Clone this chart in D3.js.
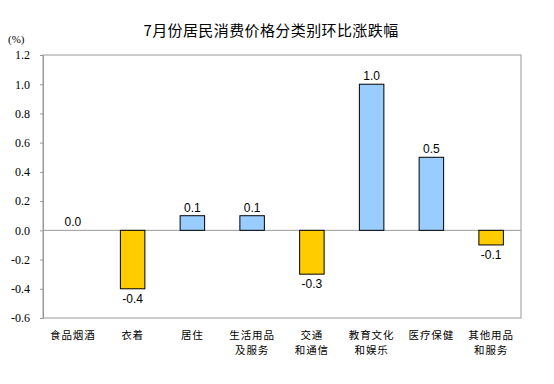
<!DOCTYPE html>
<html><head><meta charset="utf-8">
<script src="https://cdn.jsdelivr.net/npm/d3@7"></script>
<style>body{margin:0;background:#fff}svg{display:block}</style>
</head><body>
<svg id="c" width="554" height="384"></svg>
<script>
const categories = [["食品烟酒"],["衣着"],["居住"],["生活用品","及服务"],["交通","和通信"],["教育文化","和娱乐"],["医疗保健"],["其他用品","和服务"]];
const values = [0.0, -0.4, 0.1, 0.1, -0.3, 1.0, 0.5, -0.1];
const yTicks = [1.2, 1.0, 0.8, 0.6, 0.4, 0.2, 0.0, -0.2, -0.4, -0.6];
const title = "7月份居民消费价格分类别环比涨跌幅";
const unit = "(%)";

const fmt = d => d3.format(".1f")(d).replace("−", "-");
const data = values.map((v, i) => ({ i, v }));

const svg = d3.select("#c");
const L = 43, R = 521, T = 55, B = 318;
const x = d3.scaleBand().domain(d3.range(categories.length)).range([L, R]).paddingInner(0.59).paddingOuter(0.295);
const y = d3.scaleLinear().domain([-0.6, 1.2]).range([B, T]);

svg.append("text").attr("x", 271).attr("y", 36).attr("text-anchor", "middle")
  .attr("font-family", "'Noto Sans CJK SC', sans-serif").attr("font-size", 15).attr("letter-spacing", 0.4).attr("fill", "#000").text(title);
svg.append("text").attr("x", 8).attr("y", 43).attr("font-family", "'Liberation Serif', serif").attr("font-size", 11).text(unit);

// frame
svg.append("rect").attr("x", L).attr("y", T).attr("width", R - L).attr("height", B - T)
  .attr("fill", "none").attr("stroke", "#999").attr("stroke-width", 1);

// y axis
const ya = svg.append("g").attr("transform", `translate(${L},0)`)
  .call(d3.axisLeft(y).tickValues(yTicks).tickFormat(fmt).tickSize(3).tickPadding(10));
ya.select(".domain").attr("stroke", "#999");
ya.selectAll(".tick line").attr("stroke", "#999");
ya.selectAll("text").attr("font-family", "'Liberation Serif', serif").attr("font-size", 12).attr("fill", "#000");

// zero line
svg.append("line").attr("x1", L).attr("x2", R).attr("y1", y(0)).attr("y2", y(0)).attr("stroke", "#999");

// bars
svg.selectAll("rect.bar").data(data.filter(d => d.v !== 0)).enter().append("rect").attr("class", "bar")
  .attr("x", d => x(d.i))
  .attr("y", d => y(Math.max(0, d.v)))
  .attr("width", x.bandwidth())
  .attr("height", d => Math.abs(y(d.v) - y(0)))
  .attr("fill", d => d.v >= 0 ? "#99CCFF" : "#FFCC00")
  .attr("stroke", "#000").attr("stroke-width", 1);

// value labels
svg.selectAll("text.val").data(data).enter().append("text").attr("class", "val")
  .attr("x", d => x(d.i) + x.bandwidth() / 2)
  .attr("y", d => d.v >= 0 ? y(d.v) - 4 : y(d.v) + 14)
  .attr("text-anchor", "middle")
  .attr("font-family", "'Liberation Sans', Arial, sans-serif").attr("font-size", 12).attr("fill", "#000")
  .text(d => fmt(d.v));

// x labels (multi-line as tspans)
const xl = svg.selectAll("text.xl").data(categories).enter().append("text").attr("class", "xl")
  .attr("x", (d, i) => x(i) + x.bandwidth() / 2).attr("y", 339)
  .attr("text-anchor", "middle")
  .attr("font-family", "'Noto Sans CJK SC', sans-serif").attr("font-size", 10.5).attr("letter-spacing", 0.9).attr("fill", "#000");
xl.each(function(d, i) {
  d3.select(this).selectAll("tspan").data(d).enter().append("tspan")
    .attr("x", x(i) + x.bandwidth() / 2).attr("dy", (t, j) => j === 0 ? 0 : 15.4).text(t => t);
});
</script>
</body></html>
